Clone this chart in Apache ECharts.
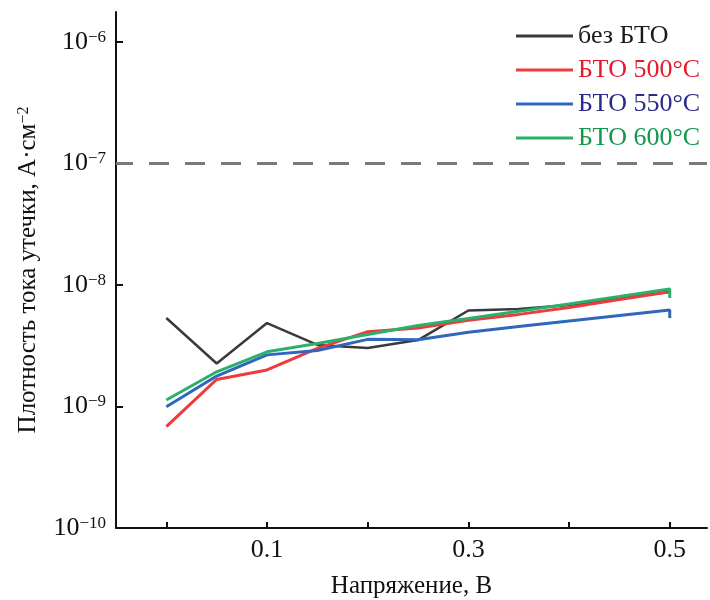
<!DOCTYPE html>
<html>
<head>
<meta charset="utf-8">
<script src="https://cdn.jsdelivr.net/npm/echarts@6/dist/echarts.min.js"></script>
<style>
    html, body { margin: 0; padding: 0; background: #fff; }
    #chart { width: 710px; height: 600px; }
</style>
</head>
<body>
<div id="chart"></div>
<script>
// напряжение, В
const voltage = [0, 0.05, 0.1, 0.15, 0.2, 0.25, 0.3, 0.35, 0.4, 0.45, 0.5];

// плотность тока утечки, А/см2
const noBto  = [5.35e-9, 2.26e-9, 4.86e-9, 3.21e-9, 3.03e-9, 3.52e-9, 6.17e-9, 6.34e-9, 6.84e-9, 7.82e-9, 8.75e-9];
const bto500 = [6.82e-10, 1.67e-9, 2.0e-9, 3.01e-9, 4.13e-9, 4.43e-9, 5.12e-9, 5.73e-9, 6.52e-9, 7.6e-9, 8.81e-9];
const bto550 = [9.95e-10, 1.78e-9, 2.66e-9, 2.89e-9, 3.57e-9, 3.55e-9, 4.08e-9, 4.55e-9, 5.06e-9, 5.61e-9, 6.22e-9];
const bto600 = [1.13e-9, 1.93e-9, 2.82e-9, 3.30e-9, 3.92e-9, 4.64e-9, 5.31e-9, 6.09e-9, 6.98e-9, 8.03e-9, 9.27e-9];
// короткий «хвостик» вниз в конце кривых
const bto550End = 5.35e-9;
const bto600End = 7.82e-9;

// пунктирный уровень 10^-7
const limitX = [-0.05, 0.537];
const limitLevel = 1e-7;

const xTicks = [0, 0.1, 0.2, 0.3, 0.4, 0.5];
const xLabels = [0.1, 0.3, 0.5];
const yTicks = [1e-10, 1e-9, 1e-8, 1e-7, 1e-6];

const names = ['без БТО', 'БТО 500°C', 'БТО 550°C', 'БТО 600°C'];
const lineColors = ['#3a3a3a', '#ec3c3c', '#2f67bd', '#2bb06c'];
const textColors = ['#1a1a1a', '#e8192c', '#2a2a8a', '#10984c'];

const pairs = (vals) => vals.map((v, i) => [voltage[i], v]);

const d550 = pairs(bto550); d550.push([0.5, bto550End]);
const d600 = pairs(bto600); d600.push([0.5, bto600End]);
const allData = [pairs(noBto), pairs(bto500), d550, d600];

const font = 'Liberation Serif';

const chart = echarts.init(document.getElementById('chart'));

let series = names.map((n, i) => ({
    name: n,
    type: 'line',
    data: allData[i],
    showSymbol: false,
    symbol: 'none',
    lineStyle: { color: lineColors[i], width: i === 0 ? 2.5 : 3 },
    itemStyle: { color: lineColors[i] },
    z: 3 + i
}));

series.push({
    name: 'limit',
    type: 'line',
    silent: true,
    showSymbol: false,
    symbol: 'none',
    data: limitX.map(x => [x, limitLevel]),
    lineStyle: { color: '#7a7a7a', width: 3, type: [20, 16], dashOffset: 3 },
    z: 2
});

let option = {
    animation: false,
    textStyle: { fontFamily: font },
    grid: { left: 116, right: 3, top: 12, bottom: 72, outerBoundsMode: 'none', containLabel: false },
    legend: {
        orient: 'vertical',
        left: 511,
        top: 18,
        itemWidth: 57,
        itemHeight: 3,
        itemGap: 8,
        icon: 'rect',
        textStyle: { fontFamily: font, fontSize: 26 },
        data: names.map((n, i) => ({ name: n, textStyle: { color: textColors[i] } }))
    },
    xAxis: {
        type: 'value',
        min: -0.05,
        max: 0.537,
        name: 'Напряжение, В',
        nameLocation: 'middle',
        nameGap: 46,
        nameTextStyle: { fontFamily: font, fontSize: 25, color: '#111' },
        splitLine: { show: false },
        axisLine: { lineStyle: { color: '#111', width: 2 } },
        axisTick: {
            inside: true, length: 6,
            lineStyle: { color: '#111', width: 2 },
            customValues: xTicks
        },
        axisLabel: {
            margin: 9,
            fontFamily: font, fontSize: 26, color: '#111',
            customValues: xLabels,
            formatter: v => v.toFixed(1)
        }
    },
    yAxis: {
        type: 'log',
        min: 1e-10,
        max: 1.766e-6,
        name: 'Плотность тока утечки, А·см{sup|−2}',
        nameLocation: 'middle',
        nameGap: 75,
        nameTextStyle: {
            fontFamily: font, fontSize: 25, color: '#111',
            rich: { sup: { fontFamily: font, fontSize: 16, verticalAlign: 'top', color: '#111' } }
        },
        splitLine: { show: false },
        axisLine: { onZero: false, lineStyle: { color: '#111', width: 2 } },
        axisTick: {
            inside: true, length: 7,
            lineStyle: { color: '#111', width: 2 },
            customValues: yTicks
        },
        axisLabel: {
            margin: 10,
            fontFamily: font, fontSize: 26, color: '#111',
            customValues: yTicks,
            formatter: v => '10{sup|−' + Math.abs(Math.round(Math.log10(v))) + '}',
            rich: { sup: { fontFamily: font, fontSize: 17, verticalAlign: 'top', color: '#111' } }
        }
    },
    series: series
};

chart.setOption(option);
</script>
</body>
</html>
